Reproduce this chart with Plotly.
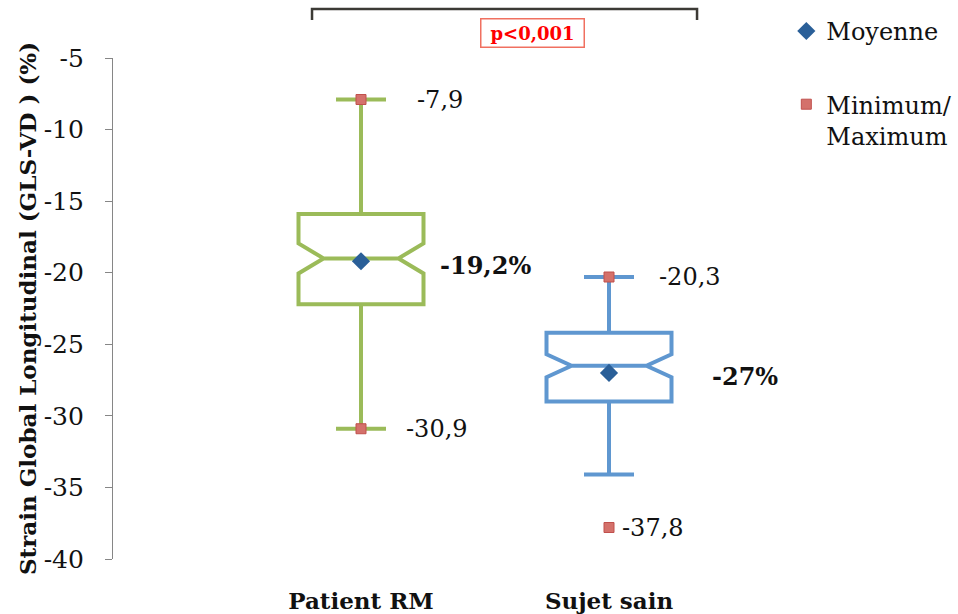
import plotly.graph_objects as go

# Groups compared
categories = ["Patient RM", "Sujet sain"]

# Box statistics (GLS-VD, %)
q1 = [-22.2, -29.0]
median = [-19.0, -26.5]
q3 = [-15.9, -24.2]
whisker_low = [-30.9, -34.1]
whisker_high = [-7.9, -20.3]
notch_half = [1.05, 0.8]

# Summary markers
means = [-19.2, -27.0]
minimum = [-30.9, -37.8]
maximum = [-7.9, -20.3]

# Y axis ticks
y_ticks = [-5, -10, -15, -20, -25, -30, -35, -40]
y_tick_labels = ["-5", "-10", "-15", "-20", "-25", "-30", "-35", "-40"]

p_value_text = "p&lt;0,001"

box_colors = ["#9bbb59", "#5f97d0"]
serif = "DejaVu Serif"


def fr(v, decimals=1):
    return f"{v:.{decimals}f}".replace(".", ",")


fig = go.Figure()

for i, cat in enumerate(categories):
    fig.add_trace(go.Box(
        x=[cat],
        q1=[q1[i]], median=[median[i]], q3=[q3[i]],
        lowerfence=[whisker_low[i]], upperfence=[whisker_high[i]],
        notched=True, notchspan=[notch_half[i]], notchwidth=0.2,
        width=0.504, whiskerwidth=0.4,
        boxpoints=False,
        line=dict(color=box_colors[i], width=4),
        fillcolor="white",
        showlegend=False, hoverinfo="skip",
    ))

fig.add_trace(go.Scatter(
    x=categories, y=means, mode="markers", name="Moyenne",
    marker=dict(symbol="diamond", size=14, color="#2a5f98"),
    legendgroup="a", hoverinfo="skip",
))

fig.add_trace(go.Scatter(
    x=[categories[0], categories[0], categories[1], categories[1]],
    y=[maximum[0], minimum[0], maximum[1], minimum[1]],
    mode="markers", name="Minimum/<br>Maximum",
    marker=dict(symbol="square", size=10, color="#d4716b",
                line=dict(color="#c0504d", width=1)),
    legendgroup="b", hoverinfo="skip",
))

# Value labels next to the extreme points and the means
label_font = dict(family=serif, size=24, color="#111111")
bold_font = dict(family=serif, size=24, color="#111111", weight="bold")
extreme_shifts = [(54, 43), (48, 11)]
mean_shifts = [77, 101]
for i, cat in enumerate(categories):
    fig.add_annotation(x=cat, y=maximum[i], text=fr(maximum[i]), showarrow=False,
                       xanchor="left", xshift=extreme_shifts[i][0], font=label_font)
    fig.add_annotation(x=cat, y=minimum[i], text=fr(minimum[i]), showarrow=False,
                       xanchor="left", xshift=extreme_shifts[i][1], font=label_font)
    dec = 0 if float(means[i]).is_integer() else 1
    fig.add_annotation(x=cat, y=means[i], text=fr(means[i], dec) + "%", showarrow=False,
                       xanchor="left", xshift=mean_shifts[i], yshift=-4, font=bold_font)

# Significance bracket
fig.add_shape(type="path", xref="paper", yref="paper",
              path="M 0.2675 1.076 L 0.2675 1.098 L 0.785 1.098 L 0.785 1.076",
              line=dict(color="#3c3a35", width=2.5))
fig.add_annotation(xref="paper", yref="paper", x=0.5635, y=1.05, text=p_value_text,
                   xanchor="center", yanchor="middle",
                   showarrow=False, font=dict(family=serif, size=18, color="#ff0000", weight="bold"),
                   bordercolor="#f07060", borderwidth=1.5, borderpad=1,
                   width=100, height=25, bgcolor="white")

fig.update_layout(
    width=958, height=614,
    margin=dict(l=113, r=101, t=58, b=55, autoexpand=False),
    plot_bgcolor="white", paper_bgcolor="white",
    font=dict(family=serif, color="#111111"),
    showlegend=True,
    legend=dict(x=0.905, y=1.098, xanchor="left", yanchor="top",
                font=dict(family=serif, size=24, color="#111111"),
                traceorder="grouped", tracegroupgap=39, valign="top",
                bgcolor="rgba(0,0,0,0)"),
    xaxis=dict(range=[-1, 2], showline=False, showgrid=False, zeroline=False,
               ticks="", ticklabelstandoff=26, automargin=False,
               tickfont=dict(family=serif, size=23, color="#111111", weight="bold")),
    yaxis=dict(range=[-40, -5], tickvals=y_ticks, ticktext=y_tick_labels,
               showline=True, linecolor="#868686", linewidth=1.2,
               ticks="outside", ticklen=7, tickcolor="#868686", tickwidth=1.2,
               showgrid=False, zeroline=False, ticklabelstandoff=16, automargin=False,
               tickfont=dict(family=serif, size=25, color="#111111"),
               title=dict(text="Strain Global Longitudinal (GLS-VD ) (%)", standoff=0,
                          font=dict(family=serif, size=23, color="#111111", weight="bold"))),
)

fig.write_html("out.html")
